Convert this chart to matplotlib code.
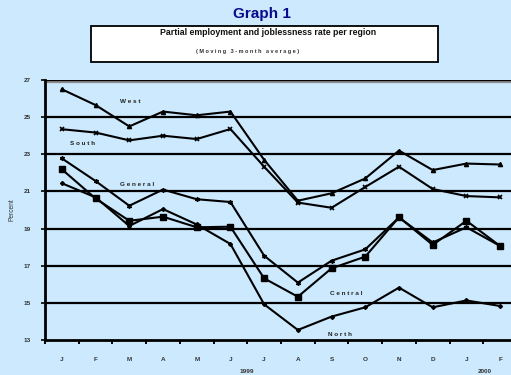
import matplotlib
matplotlib.use("Agg")
import matplotlib.pyplot as plt
from matplotlib.patches import Rectangle

plt.rcParams['font.family'] = ['Liberation Sans', 'DejaVu Sans']

months = ["J", "F", "M", "A", "M", "J", "J", "A", "S", "O", "N", "D", "J", "F"]
years = ["1999", "2000"]
y_ticks = [13, 15, 17, 19, 21, 23, 25, 27]

west = [26.5, 25.65, 24.5, 25.3, 25.1, 25.3, 22.7, 20.5, 20.9, 21.7, 23.2, 22.15, 22.5, 22.45]
south = [24.35, 24.17, 23.75, 24.0, 23.82, 24.36, 22.33, 20.4, 20.12, 21.24, 22.33, 21.13, 20.75, 20.68]
general = [22.78, 21.56, 20.23, 21.1, 20.58, 20.43, 17.54, 16.09, 17.27, 17.88, 19.6, 18.25, 19.07, 18.06]
central = [22.19, 20.62, 19.42, 19.64, 19.07, 19.1, 16.32, 15.33, 16.86, 17.49, 19.61, 18.12, 19.42, 18.06]
north = [21.44, 20.68, 19.14, 20.05, 19.22, 18.17, 14.92, 13.54, 14.26, 14.76, 15.82, 14.76, 15.13, 14.83]

bg = "#cce9fd"
W, H = 511, 375
fig = plt.figure(figsize=(W / 100, H / 100), dpi=100, facecolor=bg)

# plot area: the last category runs past the right edge of the page
x0, x1, y0, y1 = 45, 517, 340, 80
ax = fig.add_axes([x0 / W, 1 - y0 / H, (x1 - x0) / W, (y0 - y1) / H])
ax.set_facecolor(bg)
ax.set_xlim(-0.5, len(months) - 0.5)
ax.set_ylim(13, 27)

for v in y_ticks[1:]:
    ax.axhline(v, color="black", lw=1.6, zorder=1)
# soft shadow under the top frame line
ax.axhline(27 - 0.09, color="#8a8a8a", lw=1.6, zorder=1)
ax.axhline(27, color="black", lw=1.6, zorder=1.1)

xs = range(len(months))
kw = dict(color="black", lw=1.5, zorder=3, markeredgecolor="black")
ax.plot(xs, west, marker="^", ms=3.0, **kw)
ax.plot(xs, south, marker="x", ms=2.8, mew=1.2, **kw)
ax.plot(xs, general, marker=(6, 2, 0), ms=3.3, mew=1.0, **kw)
ax.plot(xs, central, marker="s", ms=4.4, **kw)
ax.plot(xs, north, marker="D", ms=2.0, **kw)

lab = dict(fontsize=4.6, fontweight="bold", color="#222222", ha="center", va="center", zorder=4)
ax.text(2.02, 25.83, "W e s t", **lab)
ax.text(0.61, 23.57, "S o u t h", **lab)
ax.text(2.23, 21.4, "G e n e r a l", **lab)
ax.text(8.43, 15.49, "C e n t r a l", **lab)
ax.text(8.25, 13.29, "N o r t h", **lab)

for side in ("top", "right"):
    ax.spines[side].set_visible(False)
ax.spines["left"].set_linewidth(2.0)
ax.spines["bottom"].set_linewidth(2.0)

ax.set_yticks(y_ticks)
ax.set_yticklabels([str(v) for v in y_ticks], fontsize=4.6, fontweight="bold", color="#333333")
ax.tick_params(axis="y", length=3, width=1.2, pad=7)

ax.set_xticks(list(xs))
ax.set_xticklabels(months, fontsize=4.6, fontweight="bold", color="#333333")
ax.tick_params(axis="x", which="major", length=0, pad=12)
ax.set_xticks([i - 0.5 for i in range(len(months) + 1)], minor=True)
ax.tick_params(axis="x", which="minor", length=3, width=1.4, direction="out")

ax.text(-0.07, 0.5, "Percent", transform=ax.transAxes, rotation=90, fontsize=4.8,
        color="#333333", ha="center", va="center")

ax.text(5.5, -0.12, years[0], transform=ax.get_xaxis_transform(), fontsize=4.6,
        fontweight="bold", color="#333333", ha="center", va="center")
ax.text(12.55, -0.12, years[1], transform=ax.get_xaxis_transform(), fontsize=4.6,
        fontweight="bold", color="#333333", ha="center", va="center")

fig.text(262 / W, 1 - 14 / H, "Graph 1", fontsize=11, fontweight="bold",
         color="#0a0a8c", ha="center", va="center")
fig.patches.append(Rectangle((91 / W, 1 - 62 / H), (438 - 91) / W, (62 - 26) / H,
                             transform=fig.transFigure, facecolor="white",
                             edgecolor="black", lw=1.3))
fig.text(268 / W, 1 - 32.5 / H, "Partial employment and joblessness rate per region",
         fontsize=6.3, fontweight="bold", color="#111111", ha="center", va="center")
fig.text(248 / W, 1 - 52 / H, "( M o v i n g   3 - m o n t h   a v e r a g e )",
         fontsize=4.0, fontweight="bold", color="#333333", ha="center", va="center")

fig.savefig("out.png", dpi=100, facecolor=bg)
